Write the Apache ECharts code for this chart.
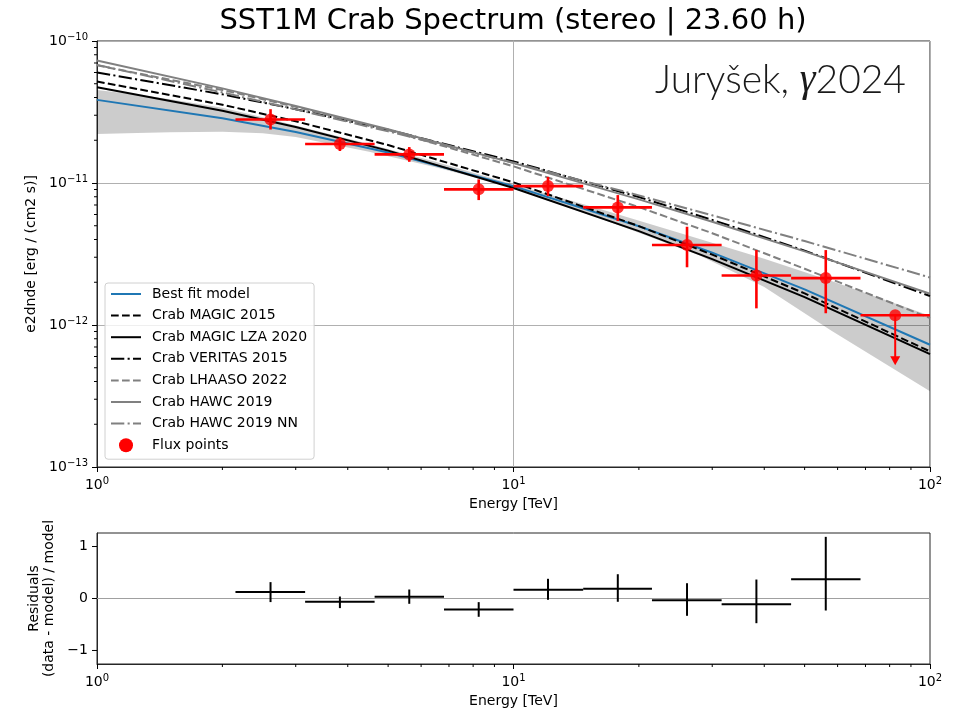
<!DOCTYPE html>
<html>
<head>
<meta charset="utf-8">
<script src="https://cdn.jsdelivr.net/npm/echarts@6/dist/echarts.min.js"></script>
<style>
  html, body { margin: 0; padding: 0; background: #fff; }
  #chart { width: 966px; height: 714px; }
</style>
</head>
<body>
<div id="chart"></div>
<script>
// ---- Flux points: energy bins (TeV) ----
const energyCenter = [2.61, 3.83, 5.62, 8.25, 12.1, 17.8, 26.1, 38.3, 56.2];
const energyLo     = [2.15, 3.16, 4.64, 6.81, 10.0, 14.7, 21.5, 31.6, 46.4];
const energyHi     = [3.16, 4.64, 6.81, 10.0, 14.7, 21.5, 31.6, 46.4, 68.1];

// E^2 dN/dE [erg / (cm2 s)] with error bounds
const flux      = [2.80e-11, 1.88e-11, 1.59e-11, 9.02e-12, 9.51e-12, 6.73e-12, 3.66e-12, 2.23e-12, 2.14e-12];
const fluxUpper = [3.31e-11, 2.09e-11, 1.79e-11, 1.06e-11, 1.105e-11, 8.22e-12, 4.92e-12, 3.37e-12, 3.37e-12];
const fluxLower = [2.38e-11, 1.68e-11, 1.41e-11, 7.58e-12, 8.09e-12, 5.40e-12, 2.55e-12, 1.31e-12, 1.21e-12];

// Upper limit in the last bin
const ulEnergy = 82.5, ulEnergyLo = 68.1, ulEnergyHi = 100;
const ulFlux = 1.17e-12;
const ulArrowTip = 5.2e-13;

// Residuals (data - model) / model
const residual      = [0.123, -0.063, 0.033, -0.210, 0.167, 0.187, -0.032, -0.109, 0.372];
const residualUpper = [0.315, 0.038, 0.173, -0.070, 0.379, 0.467, 0.294, 0.365, 1.186];
const residualLower = [-0.069, -0.185, -0.102, -0.352, -0.025, -0.063, -0.333, -0.475, -0.231];

// ---- Spectral models sampled on an energy grid (TeV) ----
const modelEnergy  = [1, 2, 3, 5, 10, 20, 30, 50, 100];
const bestFit      = [3.85e-11, 2.86e-11, 2.29e-11, 1.64e-11, 9.51e-12, 4.96e-12, 3.23e-12, 1.78e-12, 7.26e-13];
const magic2015    = [5.18e-11, 3.56e-11, 2.72e-11, 1.85e-11, 1.01e-11, 4.97e-12, 3.13e-12, 1.67e-12, 6.52e-13];
const magicLza2020 = [4.73e-11, 3.23e-11, 2.48e-11, 1.69e-11, 9.23e-12, 4.58e-12, 2.91e-12, 1.57e-12, 6.24e-13];
const veritas2015  = [6.01e-11, 4.21e-11, 3.31e-11, 2.37e-11, 1.42e-11, 7.96e-12, 5.50e-12, 3.34e-12, 1.60e-12];
const lhaaso2022   = [6.74e-11, 4.52e-11, 3.44e-11, 2.36e-11, 1.31e-11, 6.77e-12, 4.43e-12, 2.49e-12, 1.12e-12];
const hawc2019     = [7.28e-11, 4.64e-11, 3.49e-11, 2.39e-11, 1.38e-11, 7.67e-12, 5.33e-12, 3.30e-12, 1.66e-12];
const hawc2019nn   = [6.79e-11, 4.34e-11, 3.30e-11, 2.31e-11, 1.39e-11, 8.18e-12, 5.92e-12, 3.90e-12, 2.16e-12];

// Best-fit error band
const bandEnergy = [1, 1.25, 1.5, 2, 2.5, 3, 4.5, 6.5, 9.5, 16, 28, 40, 58, 100];
const bandUpper  = [4.52e-11, 4.18e-11, 3.89e-11, 3.39e-11, 2.90e-11, 2.54e-11, 1.88e-11, 1.41e-11, 1.02e-11, 6.61e-12, 4.03e-12, 2.93e-12, 2.04e-12, 1.16e-12];
const bandLower  = [2.21e-11, 2.25e-11, 2.28e-11, 2.30e-11, 2.24e-11, 2.11e-11, 1.66e-11, 1.29e-11, 9.64e-12, 5.69e-12, 3.09e-12, 1.85e-12, 9.12e-13, 3.42e-13];

// Axis ranges and ticks
const energyRange = [1, 100];
const fluxRange = [1e-13, 1e-10];
const residualRange = [-1.26, 1.26];
const residualTicks = [-1, 0, 1];
const minorEnergyTicks = [2, 3, 4, 5, 6, 7, 8, 9, 20, 30, 40, 50, 60, 70, 80, 90];
const minorFluxTicks = [];
[1e-13, 1e-12, 1e-11].forEach(d => { for (let k = 2; k <= 9; k++) minorFluxTicks.push(k * d); });

const FONT = 'DejaVu Sans';
const GRAY = '#808080';
const pair = (xs, ys) => xs.map((x, i) => [x, ys[i]]);

const powerLabel = v => {
  const e = Math.round(Math.log10(v));
  return '{b|10}{s|' + (e < 0 ? '\u2212' + (-e) : e) + '}';
};
const powerRich = {
  b: { fontSize: 14, fontFamily: FONT, color: '#000' },
  s: { fontSize: 10, fontFamily: FONT, color: '#000', padding: [0, 0, 8, 0] }
};

function modelLine(name, data, color, type) {
  return {
    name, type: 'line', xAxisIndex: 0, yAxisIndex: 0,
    data: pair(modelEnergy, data), showSymbol: false, symbol: 'none',
    lineStyle: { color, width: 2, type }, itemStyle: { color },
    z: 3, silent: true
  };
}

// short tick marks hanging below / left of an axis
function tickX(yBase, len) {
  return (params, api) => {
    const p = api.coord([api.value(0), yBase]);
    return { type: 'line', shape: { x1: p[0], y1: p[1], x2: p[0], y2: p[1] + len },
             style: { stroke: '#000', lineWidth: 1 } };
  };
}
function tickY(xBase, len) {
  return (params, api) => {
    const p = api.coord([xBase, api.value(1)]);
    return { type: 'line', shape: { x1: p[0] - len, y1: p[1], x2: p[0], y2: p[1] },
             style: { stroke: '#000', lineWidth: 1 } };
  };
}

function errorBars(color, width) {
  return (params, api) => {
    const x = api.value(0), y = api.value(1);
    const l = api.coord([api.value(2), y]);
    const r = api.coord([api.value(3), y]);
    const b = api.coord([x, api.value(4)]);
    const t = api.coord([x, api.value(5)]);
    return { type: 'group', children: [
      { type: 'line', shape: { x1: l[0], y1: l[1], x2: r[0], y2: r[1] }, style: { stroke: color, lineWidth: width } },
      { type: 'line', shape: { x1: t[0], y1: t[1], x2: b[0], y2: b[1] }, style: { stroke: color, lineWidth: width } }
    ] };
  };
}

const axisLineStyle = { show: true, onZero: false, lineStyle: { color: '#262626', width: 1 } };

const chart = echarts.init(document.getElementById('chart'), null, { renderer: 'canvas' });

const option = {
  animation: false,
  backgroundColor: '#fff',
  graphic: [
    { type: 'text', x: 513, y: 21, style: { text: 'SST1M Crab Spectrum (stereo | 23.60 h)', align: 'center', verticalAlign: 'middle',
      fontFamily: FONT, fontSize: 29, fill: '#000' }, z: 10 },
    { type: 'text', x: 655, y: 80, style: {
      text: '{a|Jury\u0161ek, }{g|\u03b3}{a|2024}', verticalAlign: 'middle', align: 'left',
      rich: {
        a: { fontFamily: 'Lato', fontWeight: 300, fontSize: 39, fill: '#1a1a1a', color: '#1a1a1a' },
        g: { fontFamily: 'Liberation Serif', fontStyle: 'italic', fontSize: 40, fill: '#1a1a1a', color: '#1a1a1a' }
      } }, z: 10 }
  ],
  grid: [
    { left: 97, top: 41, width: 833, height: 426, show: true, borderColor: '#262626', borderWidth: 1, backgroundColor: 'transparent' },
    { left: 97, top: 533, width: 833, height: 131, show: true, borderColor: '#262626', borderWidth: 1, backgroundColor: 'transparent' }
  ],
  xAxis: [
    { type: 'log', logBase: 10, gridIndex: 0, min: energyRange[0], max: energyRange[1],
      name: 'Energy [TeV]', nameLocation: 'middle', nameGap: 30,
      nameTextStyle: { fontFamily: FONT, fontSize: 14, color: '#000' },
      axisLine: axisLineStyle,
      axisTick: { show: true, length: 5, lineStyle: { color: '#000', width: 1 } },
      axisLabel: { formatter: powerLabel, rich: powerRich, margin: 9 },
      splitLine: { show: true, lineStyle: { color: '#b0b0b0', width: 1 } } },
    { type: 'log', logBase: 10, gridIndex: 1, min: energyRange[0], max: energyRange[1],
      name: 'Energy [TeV]', nameLocation: 'middle', nameGap: 30,
      nameTextStyle: { fontFamily: FONT, fontSize: 14, color: '#000' },
      axisLine: axisLineStyle,
      axisTick: { show: true, length: 5, lineStyle: { color: '#000', width: 1 } },
      axisLabel: { formatter: powerLabel, rich: powerRich, margin: 9 },
      splitLine: { show: false } }
  ],
  yAxis: [
    { type: 'log', logBase: 10, gridIndex: 0, min: fluxRange[0], max: fluxRange[1],
      name: 'e2dnde [erg / (cm2 s)]', nameLocation: 'middle', nameGap: 53, nameRotate: 90,
      nameTextStyle: { fontFamily: FONT, fontSize: 14, color: '#000' },
      axisLine: axisLineStyle,
      axisTick: { show: true, length: 5, lineStyle: { color: '#000', width: 1 } },
      axisLabel: { formatter: powerLabel, rich: powerRich, margin: 9 },
      splitLine: { show: true, lineStyle: { color: '#b0b0b0', width: 1 } } },
    { type: 'value', gridIndex: 1, min: residualRange[0], max: residualRange[1],
      name: 'Residuals\n(data - model) / model', nameLocation: 'middle', nameGap: 35, nameRotate: 90,
      nameTextStyle: { fontFamily: FONT, fontSize: 14, color: '#000', lineHeight: 15 },
      axisLine: axisLineStyle,
      axisTick: { show: false },
      axisLabel: { customValues: residualTicks, margin: 9, fontFamily: FONT, fontSize: 14, color: '#000',
        formatter: v => (v < 0 ? '\u2212' + (-v) : String(v)) },
      splitLine: { show: false } }
  ],
  legend: {
    orient: 'vertical', left: 105, top: 283,
    itemWidth: 30, itemHeight: 14, itemGap: 7.6,
    padding: [4, 7, 7, 5],
    borderColor: '#d0d0d0', borderWidth: 1, borderRadius: 3,
    backgroundColor: 'rgba(255,255,255,0.8)',
    itemStyle: { opacity: 0 },
    textStyle: { fontFamily: FONT, fontSize: 14, color: '#000', padding: [0, 0, 0, 6] },
    data: ['Best fit model', 'Crab MAGIC 2015', 'Crab MAGIC LZA 2020', 'Crab VERITAS 2015',
           'Crab LHAASO 2022', 'Crab HAWC 2019', 'Crab HAWC 2019 NN',
           { name: 'Flux points', icon: 'circle', itemStyle: { opacity: 1, color: '#ff0000' } }]
  },
  series: [
    // error band of the best-fit model
    { type: 'custom', xAxisIndex: 0, yAxisIndex: 0, z: 1, silent: true, clip: true,
      data: bandEnergy.map((e, i) => [e, bandUpper[i], bandLower[i]]),
      encode: { x: 0, y: [1, 2] },
      renderItem: (params, api) => {
        if (params.dataIndex !== 0) return null;
        const upper = bandEnergy.map((e, i) => api.coord([e, bandUpper[i]]));
        const lower = bandEnergy.map((e, i) => api.coord([e, bandLower[i]])).reverse();
        return { type: 'polygon', shape: { points: upper.concat(lower) }, style: { fill: 'rgba(0,0,0,0.2)' } };
      } },
    modelLine('Best fit model', bestFit, '#1f77b4', 'solid'),
    modelLine('Crab MAGIC 2015', magic2015, '#000', [7.7, 3.3]),
    modelLine('Crab MAGIC LZA 2020', magicLza2020, '#000', 'solid'),
    modelLine('Crab VERITAS 2015', veritas2015, '#000', [13.3, 3.3, 2.1, 3.3]),
    modelLine('Crab LHAASO 2022', lhaaso2022, GRAY, [7.7, 3.3]),
    modelLine('Crab HAWC 2019', hawc2019, GRAY, 'solid'),
    modelLine('Crab HAWC 2019 NN', hawc2019nn, GRAY, [13.3, 3.3, 2.1, 3.3]),
    // flux point error bars
    { type: 'custom', xAxisIndex: 0, yAxisIndex: 0, z: 5, silent: true, clip: false,
      data: energyCenter.map((e, i) => [e, flux[i], energyLo[i], energyHi[i], fluxLower[i], fluxUpper[i]]),
      encode: { x: [0, 2, 3], y: [1, 4, 5] },
      renderItem: errorBars('#ff0000', 2.6) },
    // upper limit: horizontal bin bar and downward arrow
    { type: 'custom', xAxisIndex: 0, yAxisIndex: 0, z: 5, silent: true, clip: false,
      data: [[ulEnergy, ulFlux, ulEnergyLo, ulEnergyHi, ulArrowTip]],
      encode: { x: [0, 2, 3], y: [1, 4] },
      renderItem: (params, api) => {
        const y = api.value(1);
        const c = api.coord([api.value(0), y]);
        const l = api.coord([api.value(2), y]);
        const r = api.coord([api.value(3), y]);
        const tip = api.coord([api.value(0), api.value(4)]);
        const headH = 9, headW = 5;
        return { type: 'group', children: [
          { type: 'line', shape: { x1: l[0], y1: l[1], x2: r[0], y2: r[1] }, style: { stroke: '#ff0000', lineWidth: 2.6 } },
          { type: 'line', shape: { x1: c[0], y1: c[1], x2: tip[0], y2: tip[1] - headH + 1 }, style: { stroke: '#ff0000', lineWidth: 2 } },
          { type: 'polygon', shape: { points: [[tip[0] - headW, tip[1] - headH], [tip[0] + headW, tip[1] - headH], [tip[0], tip[1]]] },
            style: { fill: '#ff0000' } }
        ] };
      } },
    // flux point markers
    { name: 'Flux points', type: 'scatter', xAxisIndex: 0, yAxisIndex: 0, z: 6, silent: true,
      symbol: 'circle', symbolSize: 12, itemStyle: { color: '#ff0000' },
      data: pair(energyCenter, flux).concat([[ulEnergy, ulFlux]]) },
    // zero reference of the residual panel
    { type: 'line', xAxisIndex: 1, yAxisIndex: 1, z: 2, silent: true, showSymbol: false, symbol: 'none', clip: true,
      data: [[energyRange[0], 0], [energyRange[1], 0]],
      lineStyle: { color: '#a0a0a0', width: 1.2 } },
    // residuals
    { type: 'custom', xAxisIndex: 1, yAxisIndex: 1, z: 5, silent: true, clip: true,
      data: energyCenter.map((e, i) => [e, residual[i], energyLo[i], energyHi[i], residualLower[i], residualUpper[i]]),
      encode: { x: [0, 2, 3], y: [1, 4, 5] },
      renderItem: errorBars('#000', 2) },
    // major ticks of the residual axis
    { type: 'custom', xAxisIndex: 1, yAxisIndex: 1, clip: false, silent: true, z: 4,
      data: residualTicks.map(v => [energyRange[0], v]), encode: { x: 0, y: 1 },
      renderItem: tickY(energyRange[0], 5) },
    // minor ticks
    { type: 'custom', xAxisIndex: 0, yAxisIndex: 0, clip: false, silent: true, z: 4,
      data: minorEnergyTicks.map(v => [v, fluxRange[0]]), encode: { x: 0, y: 1 },
      renderItem: tickX(fluxRange[0], 3) },
    { type: 'custom', xAxisIndex: 1, yAxisIndex: 1, clip: false, silent: true, z: 4,
      data: minorEnergyTicks.map(v => [v, residualRange[0]]), encode: { x: 0, y: 1 },
      renderItem: tickX(residualRange[0], 3) },
    { type: 'custom', xAxisIndex: 0, yAxisIndex: 0, clip: false, silent: true, z: 4,
      data: minorFluxTicks.map(v => [energyRange[0], v]), encode: { x: 0, y: 1 },
      renderItem: tickY(energyRange[0], 3) }
  ]
};

chart.setOption(option);
</script>
</body>
</html>
